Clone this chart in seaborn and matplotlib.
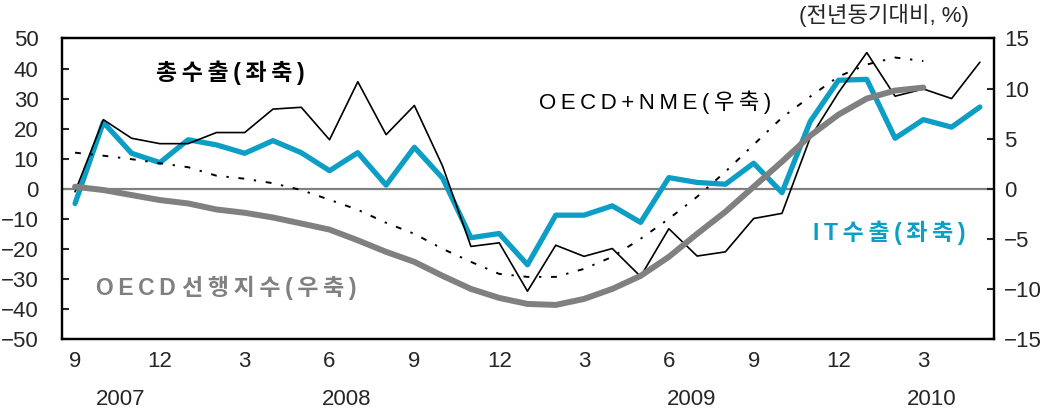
import numpy as np
import pandas as pd
import matplotlib.pyplot as plt
import matplotlib.transforms as mtransforms
import seaborn as sns

# months: 2007.9 ~ 2010.5
months = list(range(33))
tick_pos = [0, 3, 6, 9, 12, 15, 18, 21, 24, 27, 30]
tick_lab = ['9', '12', '3', '6', '9', '12', '3', '6', '9', '12', '3']
years = ['2007', '2008', '2009', '2010']
year_pos = [1.6, 9.6, 21.8, 30.3]

# 총수출 (좌축)
total_exp = [-1, 23, 16.8, 15, 15, 18.7, 18.7, 26.5, 27.1, 16.3, 35.6, 18, 27.7, 7.5,
             -19.2, -18, -34.1, -18.8, -22.5, -19.9, -29.2, -13.3, -22.4, -21, -9.9,
             -8.2, 17, 32, 45.3, 30.8, 33.2, 30, 42.1]
# IT수출 (좌축)
it_exp = [-4.9, 22.1, 11.8, 8.7, 16.3, 14.6, 11.8, 16, 12, 6, 12, 1.2, 13.8, 3.5,
          -16.3, -14.9, -25.3, -8.8, -8.8, -5.7, -11.2, 3.7, 2.1, 1.5, 8.5, -1.3,
          22.4, 36.1, 36.4, 16.8, 23, 20.5, 27.2]
# OECD+NME (우축)
oecd_nme = [3.6, 3.3, 2.95, 2.55, 2.15, 1.3, 1.0, 0.55, -0.13, -1.1, -2.1, -3.4, -4.5,
            -6.0, -7.3, -8.5, -8.8, -8.8, -8.0, -6.8, -5.0, -3.0, -0.8, 1.7, 4.4, 7.1,
            9.2, 11.2, 12.4, 13.1, 12.75]
# OECD 선행지수 (우축)
oecd_cli = [0.2, -0.13, -0.63, -1.13, -1.47, -2.07, -2.4, -2.87, -3.47, -4.08, -5.15,
            -6.3, -7.3, -8.7, -10.0, -10.9, -11.5, -11.6, -11.0, -10.0, -8.7, -6.8,
            -4.5, -2.3, 0.2, 2.7, 5.3, 7.4, 9.0, 9.8, 10.1]

left = pd.DataFrame({'m': months, 'total': total_exp, 'it': it_exp})
right = pd.DataFrame({'m': months[:len(oecd_nme)], 'nme': oecd_nme, 'cli': oecd_cli})

sns.set_style('white')
plt.rcParams['font.family'] = ['Liberation Sans', 'Noto Sans CJK KR']

BLUE = '#0c9ec4'
GRAY = '#808080'


def spaced(s):
    # 원본처럼 글자 사이를 살짝 벌림 (thin space)
    return '\u2009'.join(s.split(' ')[0]) + (
        ' ' + '\u2009'.join(s.split(' ')[1]) if ' ' in s else '')


fig = plt.figure(figsize=(10.48, 4.12), dpi=100)
ax = fig.add_axes([0.0592, 0.1772, 0.8893, 0.7294])
ax2 = ax.twinx()

ax.axhline(0, color=GRAY, lw=1.6, zorder=1)
sns.lineplot(data=left, x='m', y='it', ax=ax, color=BLUE, lw=3.8, zorder=2)
sns.lineplot(data=left, x='m', y='total', ax=ax, color='black', lw=1.2, zorder=3)
sns.lineplot(data=right, x='m', y='cli', ax=ax2, color=GRAY, lw=4.3)
sns.lineplot(data=right, x='m', y='nme', ax=ax2, color='black', lw=1.4,
             linestyle=(0, (3, 5, 1.2, 5)))

ax.set_xlim(-0.46, 32.5)
ax.set_ylim(-50, 50)
ax2.set_ylim(-15, 15)
ax.set_yticks(range(-50, 51, 10))
ax2.set_yticks(range(-15, 16, 5))
ax.set_xticks(tick_pos)
ax.set_xticklabels(tick_lab)
ax.set_xlabel('')
ax.set_ylabel('')
ax2.set_ylabel('')

ax.tick_params(axis='y', direction='in', length=5, width=1.5, labelsize=16, pad=17)
ax2.tick_params(axis='y', direction='in', length=5, width=1.5, labelsize=16, pad=7)
ax.tick_params(axis='x', length=0, labelsize=16, pad=9)

for a in (ax, ax2):
    for s in a.spines.values():
        s.set_color('black')
        s.set_linewidth(1.6)
        s.set_visible(True)

trans = mtransforms.blended_transform_factory(ax.transData, ax.transAxes)
for y, p in zip(years, year_pos):
    ax.text(p, -0.2, y, transform=trans, ha='center', va='center', fontsize=16)

ax.text(5.5, 38.7, spaced('총수출(좌축)'), ha='center', va='center', fontsize=16.5,
        fontweight='bold', color='black')
ax.text(20.5, 28.7, spaced('OECD+NME(우축)'), ha='center', va='center', fontsize=16,
        color='black')
ax.text(28.8, -14.5, spaced('IT수출(좌축)'), ha='center', va='center', fontsize=16.5,
        fontweight='bold', color=BLUE)
ax.text(5.35, -32.9, spaced('OECD 선행지수(우축)'), ha='center',
        va='center', fontsize=16.5, fontweight='bold', color=GRAY)
fig.text(0.8435, 0.9636, '(전년동기대비, %)', ha='center', va='center', fontsize=16)

fig.savefig('out.png', dpi=100)
